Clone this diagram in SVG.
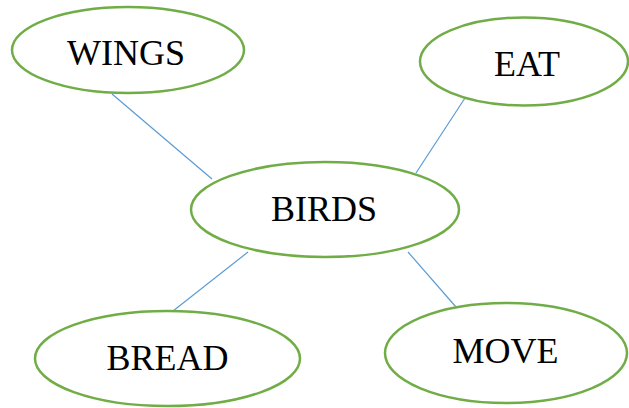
<svg xmlns="http://www.w3.org/2000/svg" width="629" height="408" viewBox="0 0 629 408">
<style>
.n ellipse{fill:#fff;stroke:#70AD47;stroke-width:2.5}
.n text{font-family:"Liberation Serif","Times New Roman",serif;font-size:36px;fill:#000;text-anchor:middle}
.c line{stroke:#5B9BD5;stroke-width:1.2}
</style>
<rect width="629" height="408" fill="#fff"/>
<g id="connectors" class="c">
<line x1="112" y1="94" x2="212" y2="179"/>
<line x1="465" y1="98" x2="416" y2="173"/>
<line x1="248" y1="252" x2="173" y2="311"/>
<line x1="408" y1="252" x2="456" y2="307"/>
</g>
<g id="wings" class="n"><ellipse cx="128" cy="50" rx="116" ry="43"/><text x="126" y="65">WINGS</text></g>
<g id="eat" class="n"><ellipse cx="524" cy="61.5" rx="104" ry="44"/><text x="527" y="76">EAT</text></g>
<g id="birds" class="n"><ellipse cx="325" cy="209.5" rx="134" ry="47.5"/><text x="324" y="221">BIRDS</text></g>
<g id="bread" class="n"><ellipse cx="167.5" cy="358.5" rx="132.5" ry="47.5"/><text x="167.5" y="370">BREAD</text></g>
<g id="move" class="n"><ellipse cx="506" cy="353" rx="121" ry="50"/><text x="505.5" y="363">MOVE</text></g>
</svg>
